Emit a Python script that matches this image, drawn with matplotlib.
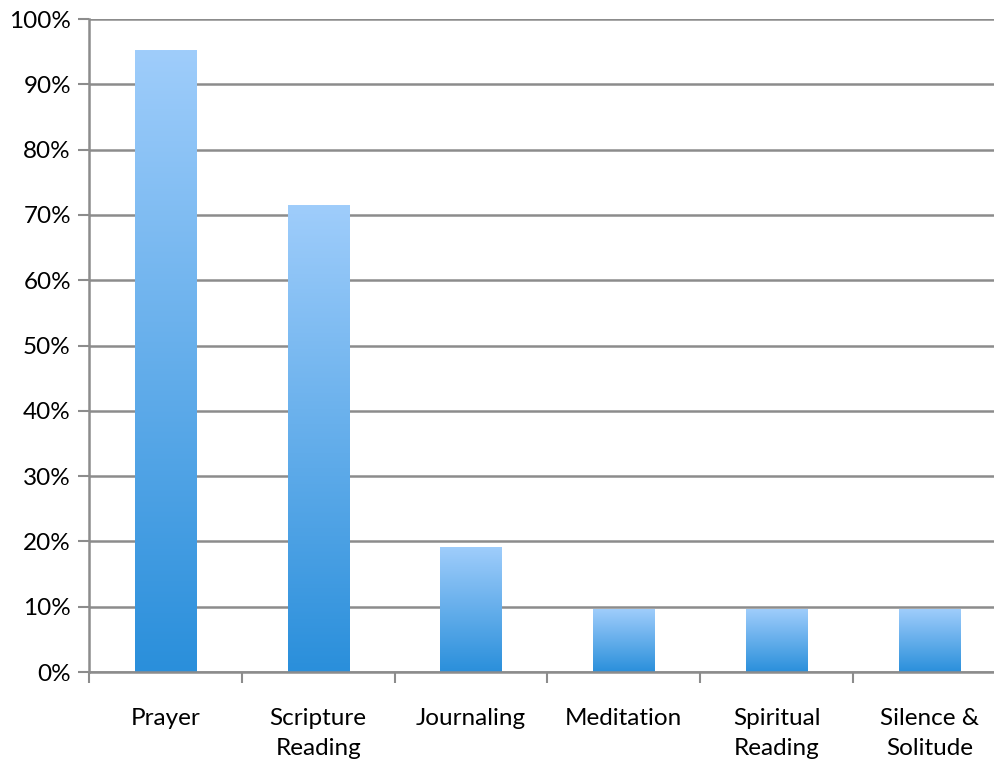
import numpy as np
import matplotlib.pyplot as plt
from matplotlib.colors import LinearSegmentedColormap
from matplotlib.ticker import FuncFormatter, FixedLocator

categories = ['Prayer', 'Scripture\nReading', 'Journaling', 'Meditation',
              'Spiritual\nReading', 'Silence &\nSolitude']
values = [95.2, 71.4, 19.0, 9.5, 9.5, 9.5]
yticks = [0, 10, 20, 30, 40, 50, 60, 70, 80, 90, 100]

plt.rcParams['font.family'] = ['Lato', 'DejaVu Sans']

fig = plt.figure(figsize=(9.95, 7.59), dpi=100)
ax = fig.add_axes([0.0894, 0.1146, 0.9216, 0.8603])

x = np.arange(len(categories))
width = 0.4
grad = LinearSegmentedColormap.from_list('bar', ['#2A8FDB', '#9FCDFB'])

for i, v in zip(x, values):
    g = np.linspace(0, 1, 256).reshape(-1, 1)
    ax.imshow(g, cmap=grad, origin='lower', aspect='auto',
              extent=(i - width / 2, i + width / 2, 0, v), zorder=2)

ax.set_xlim(-0.5, len(categories) - 0.5)
ax.set_ylim(0, 100)

ax.set_yticks(yticks)
ax.yaxis.set_major_formatter(FuncFormatter(lambda v, p: '%d%%' % v))
ax.yaxis.grid(True, color='#8c8c8c', linewidth=1.8, zorder=0)
ax.set_axisbelow(True)

# category boundaries carry the tick marks, names sit between them
ax.xaxis.set_major_locator(FixedLocator(np.arange(len(categories) + 1) - 0.5))
ax.xaxis.set_ticklabels([])
ax.xaxis.set_minor_locator(FixedLocator(x))
ax.xaxis.set_ticklabels(categories, minor=True)
ax.tick_params(axis='x', which='minor', length=0, pad=26, labelsize=17.5)
ax.tick_params(axis='x', which='major', length=8, width=1.5, color='#8c8c8c')
ax.tick_params(axis='y', length=8, width=1.5, color='#8c8c8c', labelsize=17.5, pad=5)
for lbl in ax.get_xticklabels(minor=True):
    lbl.set_linespacing(1.55)

for s in ['top', 'right']:
    ax.spines[s].set_visible(False)
for s in ['left', 'bottom']:
    ax.spines[s].set_color('#8c8c8c')
    ax.spines[s].set_linewidth(1.8)

fig.savefig('out.png', dpi=100)
